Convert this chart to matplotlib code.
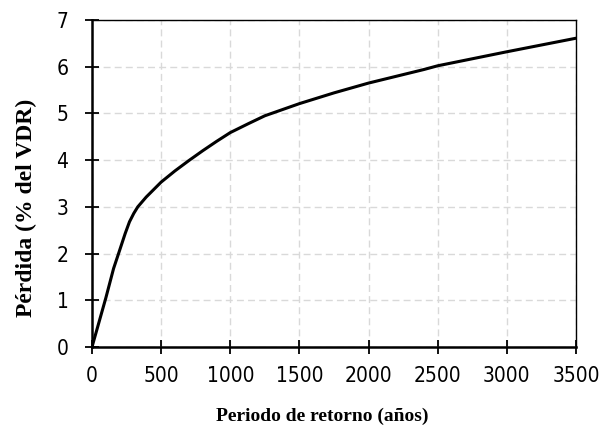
import matplotlib
matplotlib.use("Agg")
import matplotlib.pyplot as plt
from matplotlib import font_manager as fm

# Data
periodo = [0, 100, 156, 192, 240, 271, 302, 331, 392, 500, 600, 700, 800, 900, 1000,
           1130, 1250, 1500, 1750, 2000, 2400, 2500, 3000, 3500]
perdida = [0, 1.05, 1.68, 2.0, 2.43, 2.68, 2.86, 3.0, 3.21, 3.53, 3.77, 3.99, 4.2, 4.4, 4.59,
           4.78, 4.95, 5.21, 5.44, 5.65, 5.94, 6.02, 6.32, 6.61]
xticks = [0, 500, 1000, 1500, 2000, 2500, 3000, 3500]
yticks = [0, 1, 2, 3, 4, 5, 6, 7]

# pick a narrow sans font if one is installed
narrow = None
for f in fm.fontManager.ttflist:
    n = f.name.lower()
    if ("narrow" in n or "condensed" in n or str(f.stretch) in ("condensed", "semi-condensed", "600", "700")) \
            and f.style == "normal" and f.weight in (400, "normal", "regular"):
        if "sans" in n or "roboto" in n or "narrow" in n:
            narrow = f.fname
            break
if narrow:
    tickprop = fm.FontProperties(fname=narrow, size=15)
else:
    tickprop = fm.FontProperties(family="Liberation Sans", size=13.5)

fig = plt.figure(figsize=(5.99, 4.30), dpi=100)
ax = fig.add_axes([92/599, 1-347/430, (576-92)/599, (347-20)/430])

ax.plot(periodo, perdida, color="black", lw=2.2, solid_joinstyle="round",
        solid_capstyle="round", zorder=3)

ax.set_xlim(0, 3500)
ax.set_ylim(0, 7)
ax.set_xticks(xticks)
ax.set_yticks(yticks)
ax.set_xticklabels([str(t) for t in xticks], fontproperties=tickprop)
ax.set_yticklabels([str(t) for t in yticks], fontproperties=tickprop)
ax.tick_params(direction="inout", length=10, width=1.3, top=False, right=False)
ax.tick_params(axis="x", pad=9)
ax.tick_params(axis="y", pad=12)

ax.grid(True, color="#d9d9d9", linestyle=(0, (5, 3)), lw=1.0, zorder=0)
ax.set_axisbelow(True)

for s in ["left", "bottom"]:
    ax.spines[s].set_linewidth(1.8)
for s in ["top", "right"]:
    ax.spines[s].set_linewidth(1.0)

serif = ["Liberation Serif", "DejaVu Serif"]
ax.set_xlabel("Periodo de retorno (años)", family=serif, fontweight="bold", fontsize=14)
ax.set_ylabel("Pérdida (% del VDR)", family=serif, fontweight="bold", fontsize=17)
ax.xaxis.set_label_coords(0.476, -0.185)
ax.yaxis.set_label_coords(-0.114, 0.424)

fig.savefig("out.png", dpi=100)
